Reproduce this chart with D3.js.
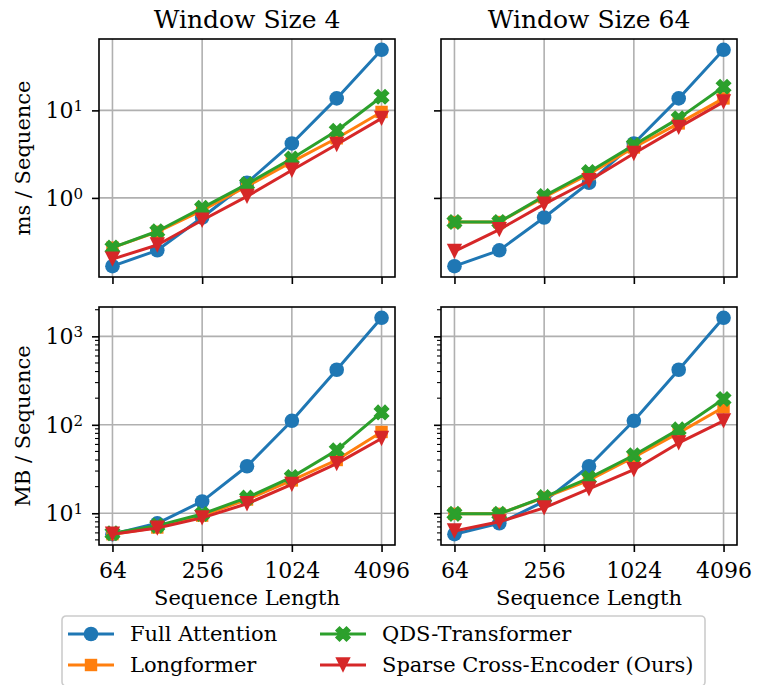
<!DOCTYPE html>
<html>
<head>
<meta charset="utf-8">
<script src="https://cdn.jsdelivr.net/npm/d3@7"></script>
<style>
  html, body { margin: 0; padding: 0; background: #fff; }
  svg text { font-family: "DejaVu Serif", serif; fill: #000; }
</style>
</head>
<body>
<svg id="chart" width="765" height="685"></svg>
<script>
// Sequence lengths (x values shared by every panel)
const seqLens = [64, 128, 256, 512, 1024, 2048, 4096];
const xTicks = [64, 256, 1024, 4096];

const methods = ["Full Attention", "Longformer", "QDS-Transformer", "Sparse Cross-Encoder (Ours)"];
const colors = ["#1f77b4", "#ff7f0e", "#2ca02c", "#d62728"];
const markers = ["circle", "square", "x", "triangleDown"];

const colTitles = ["Window Size 4", "Window Size 64"];
const rowLabels = ["ms / Sequence", "MB / Sequence"];

// Runtime (ms per sequence)
const timeFull = [0.166, 0.252, 0.597, 1.49, 4.19, 13.7, 49.2];
const timeLongW4 = [0.27, 0.41, 0.72, 1.36, 2.58, 4.8, 9.6];
const timeQdsW4 = [0.27, 0.416, 0.77, 1.44, 2.82, 5.85, 14.3];
const timeOursW4 = [0.20, 0.29, 0.556, 1.04, 2.07, 4.08, 8.1];
const timeLongW64 = [0.53, 0.53, 1.02, 1.87, 3.77, 7.1, 13.7];
const timeQdsW64 = [0.53, 0.53, 1.05, 1.98, 4.01, 8.1, 18.6];
const timeOursW64 = [0.245, 0.435, 0.85, 1.57, 3.22, 6.4, 12.5];

// Memory (MB per sequence)
const memFull = [5.8, 7.7, 13.6, 34, 111, 419, 1620];
const memLongW4 = [5.8, 6.9, 9.4, 14.3, 23.5, 40, 83];
const memQdsW4 = [5.95, 7.25, 9.8, 15, 25.6, 51.6, 138];
const memOursW4 = [5.8, 6.8, 8.87, 12.8, 21.2, 36.4, 70];
const memLongW64 = [9.85, 9.85, 15, 23.6, 43, 81, 158];
const memQdsW64 = [9.85, 9.85, 15.2, 25, 45.3, 88.7, 196];
const memOursW64 = [6.3, 8.0, 11.5, 18.9, 31.1, 62.4, 111];

const panels = [
  [[timeFull, timeLongW4, timeQdsW4, timeOursW4], [timeFull, timeLongW64, timeQdsW64, timeOursW64]],
  [[memFull, memLongW4, memQdsW4, memOursW4], [memFull, memLongW64, memQdsW64, memOursW64]]
];

const svg = d3.select("#chart");
const colX = [99, 441];
const rowY = [39, 307];
const W = 296, H = 238;
const gridColor = "#b0b0b0";
const labelSize = 22;

// log-2 x axis with 5% padding in log space
const lx0 = Math.log2(seqLens[0]), lx1 = Math.log2(seqLens[seqLens.length - 1]);
const padX = (lx1 - lx0) * 0.05;
const x = d3.scaleLog().base(2).domain([2 ** (lx0 - padX), 2 ** (lx1 + padX)]).range([0, W]);

function markerPath(type, r) {
  const p = d3.path();
  if (type === "circle") {
    p.arc(0, 0, r, 0, 2 * Math.PI);
  } else if (type === "square") {
    const s = r * 0.85;
    p.rect(-s, -s, 2 * s, 2 * s);
  } else if (type === "triangleDown") {
    const s = r * 1.05;
    p.moveTo(-s, -s); p.lineTo(s, -s); p.lineTo(0, s); p.closePath();
  } else if (type === "x") {
    // filled "X" marker
    const a = r * 0.95, b = a * 0.5;
    const pts = [[-a, -a + b], [-a + b, -a], [0, -b], [a - b, -a], [a, -a + b], [b, 0],
                 [a, a - b], [a - b, a], [0, b], [-a + b, a], [-a, a - b], [-b, 0]];
    p.moveTo(pts[0][0], pts[0][1]);
    pts.slice(1).forEach(q => p.lineTo(q[0], q[1]));
    p.closePath();
  }
  return p.toString();
}

function drawMarker(sel, type, color) {
  sel.attr("d", markerPath(type, 7.3)).attr("fill", color);
  if (type === "x") sel.attr("stroke", color).attr("stroke-width", 1.6).attr("stroke-linejoin", "miter");
}

panels.forEach((row, ri) => {
  // shared y domain per row, padded 5% in log space
  const all = row.flat(2);
  const ly0 = Math.log10(d3.min(all)), ly1 = Math.log10(d3.max(all));
  const padY = (ly1 - ly0) * 0.05;
  const y = d3.scaleLog().domain([10 ** (ly0 - padY), 10 ** (ly1 + padY)]).range([H, 0]);
  const [d0, d1] = y.domain();
  const majors = [];
  for (let e = Math.ceil(Math.log10(d0)); e <= Math.floor(Math.log10(d1)); e++) majors.push(10 ** e);
  const minors = [];
  if (ri === 1) {
    for (let e = Math.floor(Math.log10(d0)); e <= Math.ceil(Math.log10(d1)); e++) {
      for (let m = 2; m <= 9; m++) {
        const v = m * 10 ** e;
        if (v >= d0 && v <= d1) minors.push(v);
      }
    }
  }

  row.forEach((series, ci) => {
    const g = svg.append("g").attr("transform", `translate(${colX[ci]},${rowY[ri]})`);

    // grid
    g.append("g").selectAll("line").data(xTicks).join("line")
      .attr("x1", d => x(d)).attr("x2", d => x(d)).attr("y1", 0).attr("y2", H)
      .attr("stroke", gridColor).attr("stroke-width", 1.6);
    g.append("g").selectAll("line").data(majors).join("line")
      .attr("x1", 0).attr("x2", W).attr("y1", d => y(d)).attr("y2", d => y(d))
      .attr("stroke", gridColor).attr("stroke-width", 1.6);

    // series
    series.forEach((vals, si) => {
      const pts = seqLens.map((s, i) => [x(s), y(vals[i])]);
      g.append("path").attr("d", d3.line()(pts))
        .attr("fill", "none").attr("stroke", colors[si]).attr("stroke-width", 3)
        .attr("stroke-linejoin", "round");
      g.append("g").selectAll("path").data(pts).join("path")
        .attr("transform", d => `translate(${d[0]},${d[1]})`)
        .call(drawMarker, markers[si], colors[si]);
    });

    // frame
    g.append("rect").attr("width", W).attr("height", H)
      .attr("fill", "none").attr("stroke", "#000").attr("stroke-width", 1.6);

    // x axis
    const xa = g.append("g").attr("transform", `translate(0,${H})`)
      .call(d3.axisBottom(x).tickValues(xTicks).tickSizeInner(7).tickSizeOuter(0)
        .tickPadding(10).tickFormat(ri === 1 ? d3.format("d") : () => ""));
    xa.select(".domain").remove();
    xa.selectAll(".tick line").attr("stroke-width", 1.6);
    xa.selectAll("text").attr("font-size", labelSize);

    // y axis
    const ya = g.append("g")
      .call(d3.axisLeft(y).tickValues(majors).tickSizeInner(7).tickSizeOuter(0).tickPadding(6)
        .tickFormat(() => ""));
    ya.select(".domain").remove();
    ya.selectAll(".tick line").attr("stroke-width", 1.6);
    if (ci === 0) {
      ya.selectAll(".tick").append("text")
        .attr("x", -16).attr("dy", "0.33em").attr("text-anchor", "end")
        .attr("font-size", labelSize)
        .each(function (d) {
          const e = Math.round(Math.log10(d));
          const t = d3.select(this);
          t.append("tspan").text("10");
          t.append("tspan").attr("dy", "-0.45em").attr("font-size", 15).text(String(e));
        });
    }
    g.append("g").selectAll("line").data(minors).join("line")
      .attr("x1", -4).attr("x2", 0).attr("y1", d => y(d)).attr("y2", d => y(d))
      .attr("stroke", "#000").attr("stroke-width", 1.1);

    if (ri === 0) {
      g.append("text").attr("x", W / 2).attr("y", -11).attr("text-anchor", "middle")
        .attr("font-size", 25).text(colTitles[ci]);
    }
    if (ri === 1) {
      g.append("text").attr("x", W / 2).attr("y", H + 60).attr("text-anchor", "middle")
        .attr("font-size", 21).text("Sequence Length");
    }
    if (ci === 0) {
      g.append("text").attr("transform", `translate(${-69},${H / 2}) rotate(-90)`)
        .attr("text-anchor", "middle").attr("font-size", 21).text(rowLabels[ri]);
    }
  });
});

// legend
const lg = svg.append("g").attr("transform", "translate(62,616)");
lg.append("rect").attr("width", 643).attr("height", 70).attr("rx", 4)
  .attr("fill", "#fff").attr("fill-opacity", 0.8).attr("stroke", "#cccccc").attr("stroke-width", 1.6);
const legPos = [[6, 18], [6, 49], [258, 18], [258, 49]];
methods.forEach((m, i) => {
  const [lx, ly] = legPos[i];
  const e = lg.append("g").attr("transform", `translate(${lx},${ly})`);
  e.append("line").attr("x1", 0).attr("x2", 46).attr("stroke", colors[i]).attr("stroke-width", 3);
  e.append("path").attr("transform", "translate(23,0)").call(drawMarker, markers[i], colors[i]);
  e.append("text").attr("x", 62).attr("dy", "0.35em").attr("font-size", 21).text(m);
});
</script>
</body>
</html>
